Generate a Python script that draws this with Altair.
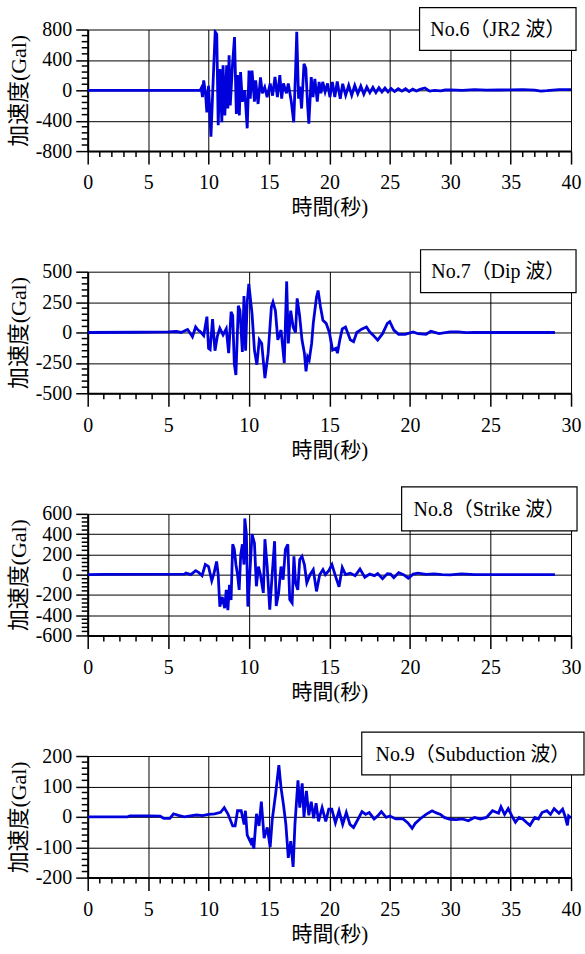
import altair as alt
import pandas as pd

# Acceleration records (time [s], acceleration [Gal]) for the four input waves
jr2_wave = [
    (0, 0), (9.3, 0), (9.4, 30), (9.5, -90), (9.6, 130), (9.75, -40), (9.86, -290),
    (10.0, 60), (10.2, -610), (10.35, 0), (10.55, 770), (10.68, 740), (10.8, -460),
    (10.95, 280), (11.1, -420), (11.2, 330), (11.35, -330), (11.5, 330), (11.6, -240),
    (11.7, 460), (11.8, -200), (11.98, 330), (12.15, 700), (12.3, -310), (12.4, 200),
    (12.55, -330), (12.65, 240), (12.8, -150), (13.0, 0), (13.2, -500), (13.35, 260),
    (13.45, -110), (13.6, 260), (13.8, -150), (13.9, 130), (14.1, -180), (14.3, 170),
    (14.45, -40), (14.65, 40), (14.85, -90), (15.1, 90), (15.3, -70), (15.5, 175),
    (15.7, -90), (15.9, 200), (16.05, -110), (16.2, 90), (16.45, -40), (16.6, 90),
    (16.85, -150), (17.05, -420), (17.2, 240), (17.3, 770), (17.45, -110), (17.55, 50),
    (17.7, -240), (17.9, 350), (18.05, 290), (18.2, -200), (18.3, -440), (18.5, 175),
    (18.65, -90), (18.8, 150), (19.0, -150), (19.15, 110), (19.3, -40), (19.45, 110),
    (19.65, -20), (19.85, 90), (20.05, -90), (20.25, 110), (20.45, -90), (20.65, 115),
    (20.9, -110), (21.1, 85), (21.35, -65), (21.6, 65), (21.85, -65), (22.1, 65),
    (22.35, -45), (22.6, 55), (22.85, -50), (23.1, 45), (23.35, -30), (23.6, 40),
    (23.85, -30), (24.1, 35), (24.35, -20), (24.6, 30), (24.85, -20), (25.1, 25),
    (25.4, -15), (25.7, 20), (26.0, -10), (26.3, 20), (26.6, -15), (26.9, 15),
    (27.2, -10), (27.5, 12), (27.9, 30), (28.3, -10), (28.7, 0), (29.2, -8), (29.6, 4),
    (30, 6), (31, 0), (32, 8), (33, 2), (34, 4), (35, 5), (36, 8), (37, 3),
    (37.5, -10), (38, -5), (38.5, 3), (39, 10), (39.5, 8), (40, 10),
]

dip_wave = [
    (0, 0), (3, 2), (5, 5), (5.5, 8), (5.8, 0), (6.0, 12), (6.2, 25), (6.35, -5),
    (6.5, -35), (6.7, 45), (6.85, 20), (7.0, 5), (7.2, -25), (7.4, 130), (7.5, -130),
    (7.6, -140), (7.75, 110), (7.9, -150), (8.05, -30), (8.2, 35), (8.4, -20),
    (8.6, 30), (8.75, -170), (8.9, 170), (9.0, 140), (9.1, -260), (9.2, -350),
    (9.35, 220), (9.45, 180), (9.6, -160), (9.7, 300), (9.8, -150), (9.9, 250),
    (10.0, 400), (10.2, 155), (10.35, -145), (10.5, -265), (10.65, -60), (10.8, -90),
    (11.0, -375), (11.2, -170), (11.4, 210), (11.5, 250), (11.65, 180), (11.8, -60),
    (12.0, 20), (12.2, -250), (12.35, 420), (12.45, -90), (12.6, 180), (12.75, 45),
    (12.9, 0), (13.0, 280), (13.15, 140), (13.3, -60), (13.45, -170), (13.55, -320),
    (13.65, -200), (13.75, -225), (13.9, -90), (14.0, 75), (14.2, 290), (14.3, 345),
    (14.45, 210), (14.6, 100), (14.8, 75), (15.0, 0), (15.2, -145), (15.4, -130),
    (15.5, -170), (15.65, -60), (15.8, 30), (16.0, 45), (16.3, -60), (16.5, -75),
    (16.7, 0), (17.0, 27), (17.3, 45), (17.5, 5), (17.7, -20), (18.0, -63),
    (18.3, -10), (18.6, 75), (18.75, 90), (19.0, 20), (19.3, -15), (19.7, -15),
    (20.2, 5), (20.5, -10), (21.0, -15), (21.3, 10), (21.8, -10), (22.5, 5),
    (23.0, 5), (23.5, -2), (24, 0), (29, 0),
]

strike_wave = [
    (0, 0), (1, 3), (6.0, 5), (6.1, 15), (6.4, 0), (6.7, 40), (6.9, 20), (7.1, -10),
    (7.3, 100), (7.5, 80), (7.7, -60), (7.85, 20), (8.0, 130), (8.1, 0), (8.2, -315),
    (8.35, -220), (8.5, -330), (8.6, -150), (8.7, -350), (8.8, -100), (8.9, -250),
    (9.0, 300), (9.1, 250), (9.2, 100), (9.3, 0), (9.4, -150), (9.5, 200), (9.6, 300),
    (9.7, 100), (9.75, 555), (9.85, 400), (9.94, -315), (10.06, 0), (10.2, 400),
    (10.35, 310), (10.47, -115), (10.6, 80), (10.72, 0), (10.9, -180), (11.0, 350),
    (11.14, 80), (11.3, -345), (11.45, 0), (11.6, 330), (11.7, -310), (11.85, -180),
    (12.0, 80), (12.13, -50), (12.27, 250), (12.42, 300), (12.54, -245), (12.69, -280),
    (12.8, 180), (12.9, -80), (13.04, -150), (13.16, 150), (13.3, 180), (13.45, 100),
    (13.6, -80), (13.8, 0), (14.0, 50), (14.2, -165), (14.4, 0), (14.6, 50),
    (14.75, 0), (14.96, 40), (15.16, 100), (15.37, -10), (15.6, -120), (15.8, 70),
    (16.0, 0), (16.3, 15), (16.6, -10), (16.9, 55), (17.2, -25), (17.5, 5),
    (17.8, -10), (18.0, 10), (18.3, -40), (18.6, 10), (18.8, 5), (19.0, -30),
    (19.3, 20), (19.6, 0), (19.9, -35), (20.2, 5), (20.5, 15), (21, 3), (21.5, 8),
    (22, 0), (22.5, -3), (23.2, 8), (24, 0), (29, 0),
]

subduction_wave = [
    (0, 0), (3.3, 0), (3.5, 3), (5, 3), (6.0, 2), (6.3, -5), (6.8, -5), (7.1, 10),
    (7.5, 5), (8.0, 0), (8.5, 3), (9, 6), (9.5, 4), (10, 8), (10.5, 10), (11, 15),
    (11.3, 30), (11.6, 10), (12.0, -30), (12.2, -30), (12.4, 20), (12.7, 20),
    (12.95, -25), (13.05, 20), (13.2, -60), (13.5, -85), (13.6, -70), (13.75, -105),
    (13.97, 10), (14.18, -30), (14.37, 50), (14.6, -70), (14.86, -35), (15.1, -100),
    (15.27, -10), (15.55, 75), (15.82, 170), (16.0, 95), (16.2, 40), (16.4, -25),
    (16.6, -135), (16.8, -80), (17.0, -165), (17.15, -25), (17.4, 120), (17.55, 30),
    (17.75, 110), (17.9, 0), (18.1, 85), (18.3, 5), (18.5, 50), (18.7, -5),
    (18.9, 45), (19.1, -15), (19.4, 30), (19.7, -15), (19.95, 25), (20.2, 25),
    (20.5, -20), (20.8, 20), (21.1, -25), (21.4, 14), (21.7, -25), (22.0, -35),
    (22.3, -13), (22.7, 17), (23.0, 8), (23.3, 14), (23.7, -7), (24.0, 3),
    (24.3, 17), (24.7, -2), (25.0, 3), (25.5, -7), (26.1, -7), (26.5, -20),
    (26.85, -38), (27.1, -22), (27.5, -7), (28.0, 8), (28.5, 20), (28.9, 12),
    (29.2, 8), (29.5, -2), (30, -8), (30.5, -9), (31, -7), (31.5, -13), (32, -2),
    (32.5, -7), (33, -2), (33.5, 20), (34, 12), (34.2, 33), (34.5, 8), (34.8, 27),
    (35.1, 3), (35.4, -18), (35.7, -2), (36, -7), (36.3, -18), (36.6, -28),
    (37, -2), (37.3, -7), (37.6, 14), (38, 20), (38.3, 8), (38.6, 27), (39, 12),
    (39.3, 25), (39.5, 3), (39.7, -28), (39.8, 3), (40, -4),
]

wave_names = ["No.6（JR2 波）", "No.7（Dip 波）", "No.8（Strike 波）", "No.9（Subduction 波）"]
time_ranges = [40, 30, 30, 40]
acc_ranges = [800, 500, 600, 200]
acc_steps = [400, 250, 200, 100]
acc_minor_steps = [80, 50, 40, 20]

FONT = "Liberation Serif, Noto Sans CJK JP"
BLUE = "#0000dc"
W, H = 485, 122
NEG = "datum.value < 0 ? '-' + abs(datum.value) : '' + datum.value"

# name-box geometry (pixels relative to the plot area)
boxes = [
    (333, 490, -22, 21),
    (334, 490, -22, 21),
    (315, 491, -27, 17),
    (275, 498, -24, 19),
]


def panel(pts, name, tmax, amax, astep, aminor, box):
    df = pd.DataFrame(pts, columns=["t", "a"])
    xs = alt.Scale(domain=[0, tmax], nice=False, zero=False)
    ys = alt.Scale(domain=[-amax, amax], nice=False)

    x_axis = alt.Axis(
        values=list(range(0, tmax + 1, 5)), grid=True, gridColor="black",
        gridWidth=1, gridOpacity=1, tickSize=13, tickColor="black", tickWidth=1.5,
        domainColor="black", domainWidth=2, labelFont=FONT, labelFontSize=20,
        labelColor="black", labelPadding=9, labelFlush=False, labelOverlap=False,
        title="時間(秒)", titleFont=FONT, titleFontSize=21, titleFontWeight="normal",
        titleColor="black", titlePadding=4,
    )
    y_axis = alt.Axis(
        values=list(range(-amax, amax + 1, astep)), grid=True, gridColor="black",
        gridWidth=1, gridOpacity=1, tickSize=12, tickColor="black", tickWidth=1.5,
        domainColor="black", domainWidth=2, labelFont=FONT, labelFontSize=20,
        labelColor="black", labelPadding=4, labelExpr=NEG, labelFlush=False,
        labelOverlap=False, title="加速度(Gal)", titleFont=FONT, titleFontSize=22,
        titleFontWeight="normal", titleColor="black", titlePadding=5,
    )

    line = alt.Chart(df).mark_line(color=BLUE, strokeWidth=2.8, clip=True).encode(
        x=alt.X("t:Q", scale=xs, axis=x_axis),
        y=alt.Y("a:Q", scale=ys, axis=y_axis),
    )

    # minor ticks: short outward rules at every second and every small acceleration step
    tminor = pd.DataFrame({"t": [v for v in range(0, tmax + 1) if v % 5]})
    xminor = alt.Chart(tminor).mark_rule(color="black", strokeWidth=1.5).encode(
        x=alt.X("t:Q", scale=xs, axis=x_axis),
        y=alt.value(H), y2=alt.value(H + 6),
    )
    aminor_vals = [v for v in range(-amax, amax + 1, aminor) if v % astep]
    yminor = alt.Chart(pd.DataFrame({"a": aminor_vals})).mark_rule(
        color="black", strokeWidth=1.5
    ).encode(
        y=alt.Y("a:Q", scale=ys, axis=y_axis),
        x=alt.value(-6), x2=alt.value(0),
    )

    x0, x1, y0, y1 = box
    one = pd.DataFrame({"name": [name]})
    frame = alt.Chart(one).mark_rect(fill="white", stroke="black", strokeWidth=1.2).encode(
        x=alt.value(x0), x2=alt.value(x1), y=alt.value(y0), y2=alt.value(y1)
    )
    label = alt.Chart(one).mark_text(
        font=FONT, fontSize=20, color="black", align="center", baseline="middle"
    ).encode(
        x=alt.value((x0 + x1) / 2), y=alt.value((y0 + y1) / 2 + 1), text="name:N"
    )

    return alt.layer(line, xminor, yminor, frame, label).properties(width=W, height=H)


panels = [
    panel(p, n, tr, ar, st, mn, bx)
    for p, n, tr, ar, st, mn, bx in zip(
        [jr2_wave, dip_wave, strike_wave, subduction_wave],
        wave_names, time_ranges, acc_ranges, acc_steps, acc_minor_steps, boxes,
    )
]

chart = (
    alt.vconcat(*panels, spacing=121, bounds="flush")
    .configure_view(stroke=None)
    .properties(padding={"left": 7, "top": 5, "right": 0, "bottom": 0}, background="white")
)

chart.save("out.html", embed_options={"renderer": "svg", "actions": False})
